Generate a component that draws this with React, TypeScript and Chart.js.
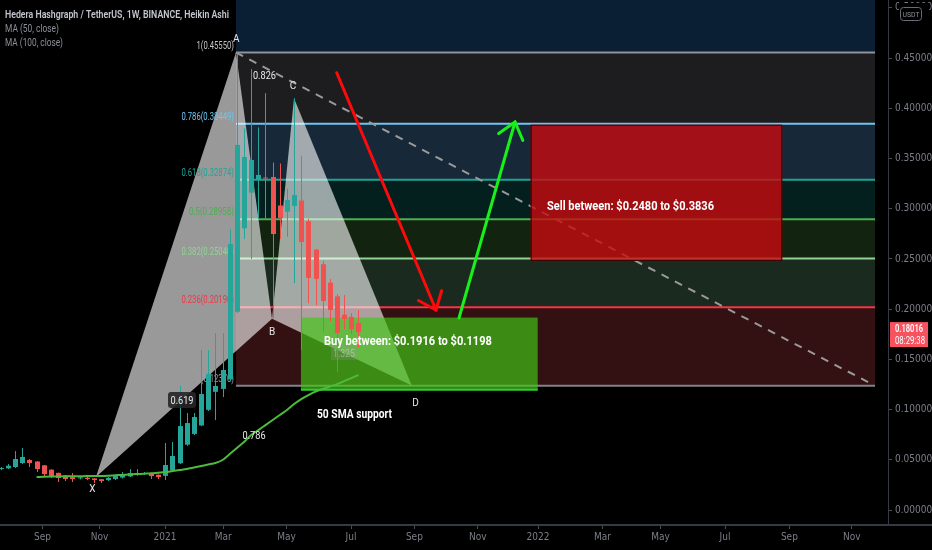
import React, { useEffect, useRef } from 'react';
import { Chart, registerables } from 'chart.js';

Chart.register(...registerables);

// ---------------- data ----------------
// weekly Heikin Ashi bars, x in days relative to 2021-01-01
const FIRST_BAR_DAY = -160.7;
const BAR_STEP_DAYS = 7;

const opens = [0.0408, 0.0415, 0.0428, 0.0468, 0.0498, 0.0483, 0.0445, 0.0402, 0.0370, 0.0345, 0.0327,
  0.0318, 0.0322, 0.0315, 0.0307, 0.0298, 0.0308, 0.0323, 0.0335, 0.0352, 0.0360,
  0.0364, 0.0351, 0.0340, 0.0394, 0.0466, 0.0651, 0.0758, 0.0842, 0.0998, 0.1177,
  0.1206, 0.1300, 0.1974, 0.2805, 0.3160, 0.3286, 0.3311, 0.3316, 0.3032, 0.2970,
  0.3028, 0.3082, 0.2875, 0.2593, 0.2447, 0.2264, 0.2127, 0.1945, 0.1923, 0.1862];
const closes = [0.0418, 0.0441, 0.0508, 0.0528, 0.0468, 0.0408, 0.0358, 0.0339, 0.0319, 0.0309, 0.0309,
  0.0325, 0.0309, 0.0299, 0.0289, 0.0319, 0.0338, 0.0348, 0.0368, 0.0368, 0.0368,
  0.0338, 0.0329, 0.0448, 0.0538, 0.0836, 0.0866, 0.0926, 0.1155, 0.1355, 0.1235,
  0.1394, 0.2648, 0.3635, 0.3515, 0.3485, 0.3336, 0.3306, 0.2748, 0.2908, 0.3087,
  0.3136, 0.2668, 0.2311, 0.2301, 0.2081, 0.1991, 0.1762, 0.1902, 0.1802, 0.1772];
const highs = [0.0428, 0.0458, 0.0587, 0.0617, 0.0508, 0.0488, 0.0448, 0.0405, 0.0372, 0.0348, 0.0368,
  0.0338, 0.0329, 0.0319, 0.0309, 0.0329, 0.0348, 0.0378, 0.0408, 0.0408, 0.0378,
  0.0370, 0.0355, 0.0667, 0.0677, 0.1235, 0.0966, 0.0966, 0.1593, 0.1593, 0.1762,
  0.1762, 0.2800, 0.4555, 0.3800, 0.4390, 0.3810, 0.4150, 0.3460, 0.3450, 0.3200,
  0.4100, 0.3525, 0.2900, 0.2600, 0.2480, 0.2300, 0.2150, 0.2140, 0.1960, 0.1990];
const lows = [0.0398, 0.0408, 0.0418, 0.0458, 0.0428, 0.0378, 0.0339, 0.0319, 0.0279, 0.0289, 0.0279,
  0.0305, 0.0299, 0.0269, 0.0269, 0.0289, 0.0299, 0.0314, 0.0329, 0.0342, 0.0350,
  0.0309, 0.0309, 0.0299, 0.0378, 0.0458, 0.0638, 0.0747, 0.0836, 0.0986, 0.0896,
  0.1125, 0.1280, 0.1960, 0.2700, 0.2500, 0.2900, 0.2900, 0.1905, 0.2700, 0.2720,
  0.2260, 0.1593, 0.2060, 0.2040, 0.1770, 0.1880, 0.1370, 0.1800, 0.1750, 0.1620];
const ma50: (number | null)[] = [null, null, null, null, null,
  0.0329, 0.0332, 0.0334, 0.0335, 0.0336, 0.0337, 0.0337, 0.0338, 0.0338, 0.0339,
  0.0342, 0.0346, 0.0350, 0.0354, 0.0358, 0.0362, 0.0366, 0.0372, 0.0378, 0.0388,
  0.0398, 0.0408, 0.0423, 0.0438, 0.0453, 0.0468, 0.0498, 0.0558, 0.0617, 0.0677,
  0.0747, 0.0796, 0.0846, 0.0896, 0.0946, 0.0996, 0.1055, 0.1105, 0.1145, 0.1180,
  0.1205, 0.1230, 0.1254, 0.1284, 0.1314, 0.1344];

const xTickDays = [-120, -64, 0, 57, 119, 182, 244, 306, 365, 428, 485, 548, 611, 672];
const xTickLabels = ['Sep', 'Nov', '2021', 'Mar', 'May', 'Jul', 'Sep', 'Nov', '2022', 'Mar', 'May', 'Jul', 'Sep', 'Nov'];
const yTicks = [0, 0.05, 0.1, 0.15, 0.2, 0.25, 0.3, 0.35, 0.4, 0.45, 0.5];

const X_MIN = -161.5;
const X_MAX = 707.5;
const Y_MIN = -0.0149;
const Y_MAX = 0.5078;

const lastPrice = 0.18016;
const lastPriceLabel = '0.18016';
const countdownLabel = '08:29:38';

// Fibonacci retracement
const FIB_START_DAY = 69.4;
const FIB_END_DAY = 694.8;
const fibPrices = [0.4555, 0.38449, 0.32874, 0.28958, 0.2504, 0.2019, 0.1237];
const fibLabels = ['1(0.45550)', '0.786(0.38449)', '0.618(0.32874)', '0.5(0.28958)', '0.382(0.25040)', '0.236(0.20190)', '0(0.12370)'];
const fibLineColors = ['#8f9299', '#6ec6f0', '#1ca597', '#4caf50', '#8fd493', '#f23645', '#80838d'];
const fibLabelColors = ['#c4c4c4', '#6ec6f0', '#1ca597', '#4caf50', '#8fd493', '#f23645', '#9a9da5'];
const fibBandColors = ['#0a1f34', '#1d1d1f', '#172839', '#04201e', '#12240f', '#1b2a1f', '#331011'];

// XABCD pattern
const patternNames = ['X', 'A', 'B', 'C', 'D'];
const patternDays = [-67.6, 69.4, 104.7, 126.2, 241.4];
const patternPrices = [0.0330, 0.4555, 0.1905, 0.4101, 0.1240];
const patternLabelDays = [-71, 66.5, 104.7, 125.2, 245.1];
const patternLabelPrices = [0.0179, 0.4659, 0.1742, 0.4191, 0.1035];
const ratioTexts = ['0.826', '0.619', '0.786', '1.325'];
const ratioDays = [97.3, 16.6, 87.1, 175.1];
const ratioPrices = [0.4291, 0.1055, 0.0707, 0.1523];

// trend line, zones, arrows
const trendDays = [69.4, 688.0];
const trendPrices = [0.4555, 0.1274];
const buyZoneDays = [133.0, 364.7];
const buyZonePrices = [0.1916, 0.1198];
const sellZoneDays = [357.8, 604.0];
const sellZonePrices = [0.3836, 0.2480];
const redArrowDays = [168.0, 265.2];
const redArrowPrices = [0.4354, 0.1992];
const greenArrowDays = [287.7, 342.5];
const greenArrowPrices = [0.1912, 0.3863];

const buyText = 'Buy between: $0.1916 to $0.1198';
const buyTextAt = [155.5, 0.1643];
const sellText = 'Sell between: $0.2480 to $0.3836';
const sellTextAt = [373.8, 0.2987];
const smaText = '50 SMA support';
const smaTextAt = [148.7, 0.0916];

const titleText = 'Hedera Hashgraph / TetherUS, 1W, BINANCE, Heikin Ashi';
const legendLines = ['MA (50, close)', 'MA (100, close)'];

const UP = '#26a69a';
const DOWN = '#ef5350';
const FONT = "Roboto, 'Liberation Sans', sans-serif";

export default function App() {
  const ref = useRef<HTMLCanvasElement>(null);

  useEffect(() => {
    const canvas = ref.current;
    if (!canvas) return;
    const barDays = opens.map((_, i) => FIRST_BAR_DAY + BAR_STEP_DAYS * i);
    const maData = ma50
      .map((v, i) => (v == null ? null : { x: barDays[i], y: v }))
      .filter((p) => p !== null) as { x: number; y: number }[];

    const text = (ctx: CanvasRenderingContext2D, s: string, x: number, y: number, font: string, color: string, align: CanvasTextAlign = 'left', maxW?: number) => {
      ctx.font = font;
      ctx.fillStyle = color;
      ctx.textAlign = align;
      ctx.textBaseline = 'alphabetic';
      if (maxW) ctx.fillText(s, x, y, maxW);
      else ctx.fillText(s, x, y);
    };

    const arrow = (ctx: CanvasRenderingContext2D, x1: number, y1: number, x2: number, y2: number, color: string) => {
      ctx.strokeStyle = color;
      ctx.lineWidth = 3;
      ctx.lineCap = 'round';
      ctx.beginPath();
      ctx.moveTo(x1, y1);
      ctx.lineTo(x2, y2);
      ctx.stroke();
      const ang = Math.atan2(y2 - y1, x2 - x1);
      const len = 20;
      const spread = 0.68;
      ctx.beginPath();
      ctx.moveTo(x2 - len * Math.cos(ang - spread), y2 - len * Math.sin(ang - spread));
      ctx.lineTo(x2, y2);
      ctx.lineTo(x2 - len * Math.cos(ang + spread), y2 - len * Math.sin(ang + spread));
      ctx.stroke();
    };

    const overlay = {
      id: 'overlay',
      beforeDatasetsDraw(chart: any) {
        const { ctx, chartArea } = chart;
        const X = (v: number) => chart.scales.x.getPixelForValue(v);
        const Y = (v: number) => chart.scales.y.getPixelForValue(v);
        ctx.save();
        ctx.beginPath();
        ctx.rect(chartArea.left, chartArea.top, chartArea.right - chartArea.left, chartArea.bottom - chartArea.top);
        ctx.clip();

        // fib bands
        const fx0 = X(FIB_START_DAY);
        const fx1 = X(FIB_END_DAY);
        ctx.fillStyle = fibBandColors[0];
        ctx.fillRect(fx0, chartArea.top, fx1 - fx0, Y(fibPrices[0]) - chartArea.top);
        for (let k = 0; k < fibPrices.length - 1; k++) {
          const a = Y(fibPrices[k]);
          const b = Y(fibPrices[k + 1]);
          ctx.fillStyle = fibBandColors[k + 1];
          ctx.fillRect(fx0, a, fx1 - fx0, b - a);
        }
        // fib lines
        fibPrices.forEach((p, k) => {
          ctx.strokeStyle = fibLineColors[k];
          ctx.lineWidth = 2;
          ctx.beginPath();
          ctx.moveTo(fx0, Y(p));
          ctx.lineTo(fx1, Y(p));
          ctx.stroke();
        });

        // dashed trend line
        ctx.strokeStyle = '#9a9a9a';
        ctx.lineWidth = 2;
        ctx.setLineDash([8, 7]);
        ctx.beginPath();
        ctx.moveTo(X(trendDays[0]), Y(trendPrices[0]));
        ctx.lineTo(X(trendDays[1]), Y(trendPrices[1]));
        ctx.stroke();
        ctx.setLineDash([]);

        // pattern triangles
        const P = patternDays.map((d, i) => [X(d), Y(patternPrices[i])]);
        ctx.fillStyle = 'rgba(255,255,255,0.6)';
        [[0, 1, 2], [2, 3, 4]].forEach((tri) => {
          ctx.beginPath();
          ctx.moveTo(P[tri[0]][0], P[tri[0]][1]);
          ctx.lineTo(P[tri[1]][0], P[tri[1]][1]);
          ctx.lineTo(P[tri[2]][0], P[tri[2]][1]);
          ctx.closePath();
          ctx.fill();
        });

        // fib labels
        fibPrices.forEach((p, k) => {
          const s = fibLabels[k];
          text(ctx, s, fx0 - 2, Y(p) - 4, `10px ${FONT}`, fibLabelColors[k], 'right', s.length * 3.75);
        });

        // zones
        const bx0 = X(buyZoneDays[0]);
        const bx1 = X(buyZoneDays[1]);
        const by0 = Y(buyZonePrices[0]);
        const by1 = Y(buyZonePrices[1]);
        ctx.fillStyle = 'rgba(66,200,24,0.67)';
        ctx.fillRect(bx0, by0, bx1 - bx0, by1 - by0);
        ctx.strokeStyle = '#2fcf2f';
        ctx.lineWidth = 2;
        ctx.beginPath();
        ctx.moveTo(bx0, by1);
        ctx.lineTo(bx1, by1);
        ctx.stroke();

        const sx0 = X(sellZoneDays[0]);
        const sx1 = X(sellZoneDays[1]);
        const sy0 = Y(sellZonePrices[0]);
        const sy1 = Y(sellZonePrices[1]);
        ctx.fillStyle = 'rgba(200,10,15,0.8)';
        ctx.fillRect(sx0, sy0, sx1 - sx0, sy1 - sy0);
        ctx.strokeStyle = 'rgba(40,0,0,0.9)';
        ctx.lineWidth = 1;
        ctx.strokeRect(sx0 + 0.5, sy0 + 0.5, sx1 - sx0 - 1, sy1 - sy0 - 1);

        // candles
        const bw = 5;
        barDays.forEach((d, i) => {
          const x = Math.round(X(d));
          const up = closes[i] >= opens[i];
          const col = up ? UP : DOWN;
          ctx.fillStyle = col;
          const yh = Y(highs[i]);
          const yl = Y(lows[i]);
          ctx.fillRect(x, yh, 1, yl - yh);
          const yo = Y(opens[i]);
          const yc = Y(closes[i]);
          const top = Math.min(yo, yc);
          const h = Math.max(1, Math.abs(yo - yc));
          ctx.fillRect(x - 2, top, bw, h);
        });
        ctx.restore();
      },
      afterDatasetsDraw(chart: any) {
        const { ctx, chartArea } = chart;
        const X = (v: number) => chart.scales.x.getPixelForValue(v);
        const Y = (v: number) => chart.scales.y.getPixelForValue(v);
        ctx.save();
        ctx.beginPath();
        ctx.rect(chartArea.left, chartArea.top, chartArea.right - chartArea.left, chartArea.bottom - chartArea.top);
        ctx.clip();

        arrow(ctx, X(redArrowDays[0]), Y(redArrowPrices[0]), X(redArrowDays[1]), Y(redArrowPrices[1]), '#ff0a0a');
        arrow(ctx, X(greenArrowDays[0]), Y(greenArrowPrices[0]), X(greenArrowDays[1]), Y(greenArrowPrices[1]), '#19f019');

        // pattern point labels
        patternNames.forEach((n, i) => {
          text(ctx, n, X(patternLabelDays[i]), Y(patternLabelPrices[i]), `10px ${FONT}`, '#e6e6e6', i === 1 ? 'left' : 'center');
        });

        // ratio labels
        ratioTexts.forEach((s, i) => {
          const x = X(ratioDays[i]);
          const y = Y(ratioPrices[i]);
          if (s === '0.619') {
            ctx.fillStyle = 'rgba(38,38,40,0.9)';
            ctx.beginPath();
            ctx.roundRect(x - 14, y - 12, 28, 16, 3);
            ctx.fill();
          }
          if (s === '1.325') {
            ctx.fillStyle = 'rgba(150,150,150,0.25)';
            ctx.fillRect(x - 13, y - 11, 26, 14);
            text(ctx, s, x, y, `11px ${FONT}`, 'rgba(200,210,200,0.55)', 'center', 22);
          } else {
            text(ctx, s, x, y, `11px ${FONT}`, '#ececec', 'center', 23);
          }
        });

        text(ctx, buyText, X(buyTextAt[0]), Y(buyTextAt[1]), `bold 13px ${FONT}`, '#ffffff', 'left', 168);
        text(ctx, sellText, X(sellTextAt[0]), Y(sellTextAt[1]), `bold 13px ${FONT}`, '#ffffff', 'left', 167);
        text(ctx, smaText, X(smaTextAt[0]), Y(smaTextAt[1]), `bold 12px ${FONT}`, '#ffffff', 'left', 75);

        // legend
        text(ctx, titleText, 5, 18, `600 11px ${FONT}`, '#c3c6ce', 'left', 224);
        text(ctx, legendLines[0], 5, 32, `11px ${FONT}`, '#8c8f98', 'left', 54);
        text(ctx, legendLines[1], 5, 46, `11px ${FONT}`, '#8c8f98', 'left', 58);
        ctx.restore();
      },
      afterDraw(chart: any) {
        const { ctx, chartArea } = chart;
        const Y = (v: number) => chart.scales.y.getPixelForValue(v);
        ctx.save();
        // extend bottom axis line under price scale
        ctx.fillStyle = '#363a45';
        ctx.fillRect(chartArea.right, chartArea.bottom - 1, 932 - chartArea.right, 2);
        // last price label
        const py = Y(lastPrice);
        ctx.fillStyle = '#f7525f';
        ctx.fillRect(chartArea.right + 2, py - 7, 38, 25);
        text(ctx, lastPriceLabel, chartArea.right + 7, py + 3, `600 10px ${FONT}`, '#ffffff', 'left', 28);
        text(ctx, countdownLabel, chartArea.right + 7, py + 15, `10px ${FONT}`, '#ffffff', 'left', 30);
        // currency badge
        ctx.fillStyle = '#000';
        ctx.fillRect(chartArea.right + 11, 3, 30, 20);
        ctx.strokeStyle = '#6a6d76';
        ctx.lineWidth = 1;
        ctx.beginPath();
        ctx.roundRect(chartArea.right + 12.5, 7.5, 21, 13, 3);
        ctx.stroke();
        text(ctx, 'USDT', chartArea.right + 23, 17, `8px ${FONT}`, '#8c8f98', 'center', 17);
        ctx.restore();
      },
    };

    const chart = new Chart(canvas, {
      type: 'line',
      data: {
        datasets: [
          {
            label: 'MA (50, close)',
            data: maData,
            borderColor: '#4cbb3c',
            borderWidth: 2,
            pointRadius: 0,
            cubicInterpolationMode: 'monotone',
          },
        ],
      },
      options: {
        animation: false,
        responsive: false,
        devicePixelRatio: 1,
        layout: { padding: 0 },
        plugins: { legend: { display: false }, tooltip: { enabled: false }, title: { display: false } },
        scales: {
          x: {
            type: 'linear',
            position: 'bottom',
            min: X_MIN,
            max: X_MAX,
            afterBuildTicks: (s: any) => {
              s.ticks = xTickDays.map((v) => ({ value: v }));
            },
            afterFit: (s: any) => {
              s.height = 25;
              s.paddingLeft = 0;
              s.paddingRight = 0;
            },
            ticks: {
              autoSkip: false,
              maxRotation: 0,
              color: '#7c7f88',
              padding: 2,
              font: { size: 10, family: "'Liberation Sans Narrow', 'DejaVu Sans Condensed', Roboto, sans-serif" },
              callback: (_v: any, i: number) => xTickLabels[i],
            },
            grid: { drawOnChartArea: false, drawTicks: true, tickLength: 4, color: '#4a4d57' },
            border: { display: true, color: '#363a45', width: 2 },
          },
          y: {
            type: 'linear',
            position: 'right',
            min: Y_MIN,
            max: Y_MAX,
            afterBuildTicks: (s: any) => {
              s.ticks = yTicks.map((v) => ({ value: v }));
            },
            afterFit: (s: any) => {
              s.width = 44;
              s.paddingTop = 0;
              s.paddingBottom = 0;
            },
            ticks: {
              color: '#7c7f88',
              padding: 3,
              font: { size: 10, family: "'Liberation Sans Narrow', 'DejaVu Sans Condensed', Roboto, sans-serif" },
              callback: (v: any) => Number(v).toFixed(5),
            },
            grid: { drawOnChartArea: false, drawTicks: true, tickLength: 4, color: '#4a4d57' },
            border: { display: true, color: '#363a45', width: 1 },
          },
        },
      },
      plugins: [overlay],
    } as any);
    return () => chart.destroy();
  }, []);

  return (
    <div style={{ position: 'fixed', left: 0, top: 0, width: 932, height: 550, background: '#000' }}>
      <canvas ref={ref} width={932} height={550} style={{ display: 'block', width: 932, height: 550 }} />
    </div>
  );
}
